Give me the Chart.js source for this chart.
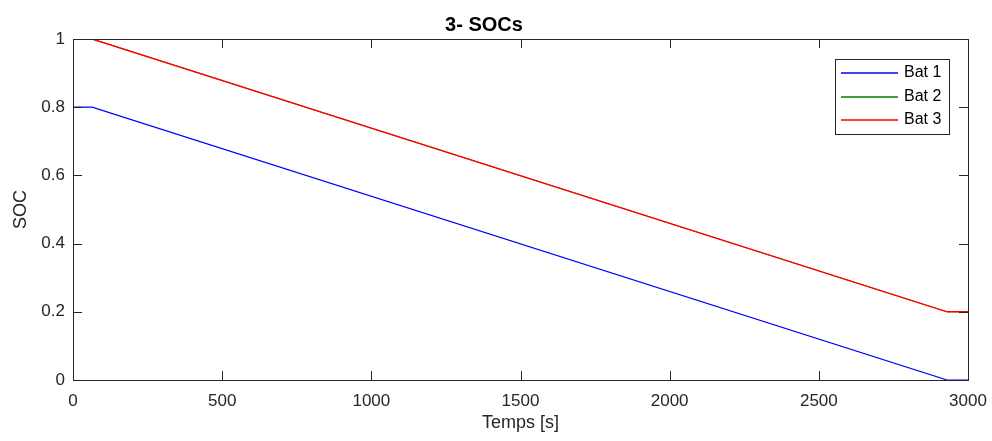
<!DOCTYPE html>
<html>
<head>
<meta charset="utf-8">
<script src="https://cdn.jsdelivr.net/npm/chart.js@4.4.0/dist/chart.umd.min.js"></script>
<style>
  html, body { margin: 0; padding: 0; background: #fff; }
  #wrap { width: 992px; height: 441px; }
</style>
</head>
<body>
<div id="wrap"><canvas id="myChart"></canvas></div>
<script>
// données
const temps = [0, 64, 2930, 3000];
const bat1 = [0.8, 0.8, 0, 0];
const bat2 = [1, 1, 0.2, 0.2];
const bat3 = [1, 1, 0.2, 0.2];
const labels = ['Bat 1', 'Bat 2', 'Bat 3'];
const colors = ['#0000ff', '#008000', '#ff0000'];
const xTicks = [0, 500, 1000, 1500, 2000, 2500, 3000];
const yTicks = [0, 0.2, 0.4, 0.6, 0.8, 1];

const axisColor = '#262626';
const fontFamily = '"Liberation Sans", Arial, sans-serif';
const pts = (ys) => temps.map((t, i) => ({ x: t, y: ys[i] }));

// cadre + graduations intérieures façon MATLAB
const boxPlugin = {
    id: 'box',
    afterDatasetsDraw(chart) {
        const { ctx, chartArea: a, scales } = chart;
        ctx.save();
        ctx.strokeStyle = axisColor;
        ctx.lineWidth = 1;
        ctx.strokeRect(a.left + 0.5, a.top + 0.5, a.right - a.left, a.bottom - a.top);
        const len = 9;
        ctx.beginPath();
        xTicks.forEach(v => {
            const x = Math.round(scales.x.getPixelForValue(v)) + 0.5;
            ctx.moveTo(x, a.bottom); ctx.lineTo(x, a.bottom - len);
            ctx.moveTo(x, a.top); ctx.lineTo(x, a.top + len);
        });
        yTicks.forEach(v => {
            const y = Math.round(scales.y.getPixelForValue(v)) + 0.5;
            ctx.moveTo(a.left, y); ctx.lineTo(a.left + len, y);
            ctx.moveTo(a.right, y); ctx.lineTo(a.right - len, y);
        });
        ctx.stroke();
        ctx.restore();
    }
};

// légende dans la zone de tracé, en haut à droite
const legendPlugin = {
    id: 'boxLegend',
    afterDraw(chart) {
        const { ctx } = chart;
        const x0 = 835, y0 = 59, w = 114, h = 75;
        ctx.save();
        ctx.fillStyle = '#fff';
        ctx.fillRect(x0, y0, w, h);
        ctx.lineWidth = 1;
        ctx.strokeStyle = axisColor;
        ctx.strokeRect(x0 + 0.5, y0 + 0.5, w, h);
        ctx.font = '16px ' + fontFamily;
        ctx.textBaseline = 'middle';
        labels.forEach((lab, i) => {
            const y = Math.round(y0 + 14 + i * 23.5);
            ctx.beginPath();
            ctx.lineWidth = 1.3;
            ctx.strokeStyle = colors[i];
            ctx.moveTo(x0 + 6, y);
            ctx.lineTo(x0 + 63, y);
            ctx.stroke();
            ctx.fillStyle = '#000';
            ctx.fillText(lab, x0 + 69, y);
        });
        ctx.restore();
    }
};

const ctx = document.getElementById('myChart').getContext('2d');
new Chart(ctx, {
    type: 'line',
    data: {
        datasets: [
            { label: labels[0], data: pts(bat1), borderColor: colors[0], borderWidth: 1.2, order: 2 },
            { label: labels[1], data: pts(bat2), borderColor: colors[1], borderWidth: 0.8, order: 1 },
            { label: labels[2], data: pts(bat3), borderColor: colors[2], borderWidth: 1.4, order: 0 }
        ]
    },
    options: {
        responsive: true,
        maintainAspectRatio: false,
        animation: false,
        elements: {
            line: { tension: 0 },
            point: { radius: 0 }
        },
        layout: { padding: { left: 0, right: 24, top: 0, bottom: 0 } },
        plugins: {
            legend: { display: false },
            tooltip: { enabled: false },
            title: {
                display: true,
                text: '3- SOCs',
                color: '#000',
                font: { family: fontFamily, size: 20, weight: 'bold' },
                padding: { top: 13, bottom: 2 }
            }
        },
        scales: {
            x: {
                type: 'linear',
                min: 0,
                max: 3000,
                afterBuildTicks: (s) => { s.ticks = xTicks.map(v => ({ value: v })); },
                afterFit: (s) => { s.height = 61; s.paddingLeft = 0; s.paddingRight = 0; },
                ticks: {
                    color: axisColor,
                    padding: 11,
                    maxRotation: 0,
                    font: { family: fontFamily, size: 17 },
                    callback: (v) => String(v)
                },
                grid: { display: false, drawTicks: false },
                border: { display: false },
                title: {
                    display: true,
                    text: 'Temps [s]',
                    color: axisColor,
                    font: { family: fontFamily, size: 18 },
                    padding: { top: 0, bottom: 7 }
                }
            },
            y: {
                min: 0,
                max: 1,
                afterBuildTicks: (s) => { s.ticks = yTicks.map(v => ({ value: v })); },
                afterFit: (s) => { s.width = 73; },
                ticks: {
                    color: axisColor,
                    padding: 8,
                    font: { family: fontFamily, size: 17 },
                    callback: (v) => String(v)
                },
                grid: { display: false, drawTicks: false },
                border: { display: false },
                title: {
                    display: true,
                    text: 'SOC',
                    color: axisColor,
                    font: { family: fontFamily, size: 18 },
                    padding: { top: 10, bottom: 0 }
                }
            }
        }
    },
    plugins: [boxPlugin, legendPlugin]
});
</script>
</body>
</html>
